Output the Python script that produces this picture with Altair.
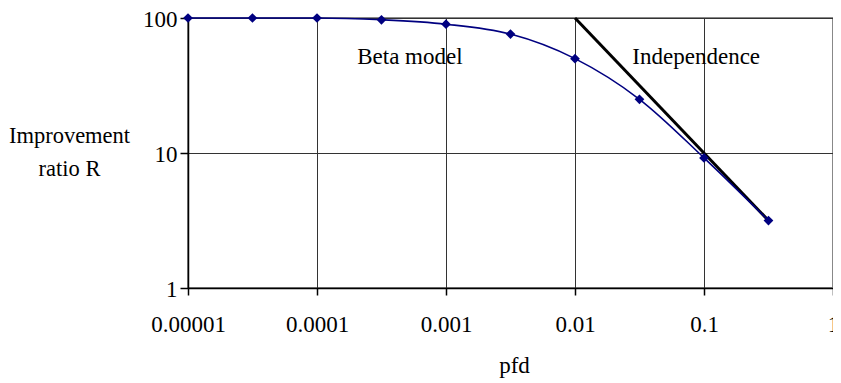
import altair as alt
import pandas as pd

# Beta model curve
pfd = [0.00001, 0.0000316, 0.0001, 0.000316, 0.001, 0.00316, 0.01, 0.0316, 0.1, 0.316]
ratio = [100, 100, 100, 97, 90, 76, 50, 25, 9.2, 3.16]

# Independence line
ind_pfd = [0.01, 0.316]
ind_ratio = [100, 3.16]

# Annotations
ann_text = ["Beta model", "Independence"]
ann_x = [0.000525, 0.087]
ann_y = [45.8, 45.8]

x_ticks = [0.00001, 0.0001, 0.001, 0.01, 0.1, 1]
y_ticks = [1, 10, 100]

FONT = "Liberation Serif"
NAVY = "#000080"

beta = pd.DataFrame({"pfd": pfd, "R": ratio})
ind = pd.DataFrame({"pfd": ind_pfd, "R": ind_ratio})
ann = pd.DataFrame({"pfd": ann_x, "R": ann_y, "label": ann_text})

xs = alt.Scale(type="log", domain=[1e-5, 1], nice=False)
ys = alt.Scale(type="log", domain=[1, 100], nice=False)

x_axis = alt.Axis(
    values=x_ticks, format=".5~f", title="pfd", grid=True,
    gridColor="#333333", gridWidth=1, domainColor="#000000", domainWidth=1.5,
    tickColor="#000000", tickSize=7, tickWidth=1.5,
    labelFont=FONT, labelFontSize=23, labelColor="#000000",
    labelBaseline="alphabetic", labelPadding=36, labelFlush=False,
    titleFont=FONT, titleFontSize=23, titleFontWeight="normal", titleColor="#000000",
    titleBaseline="alphabetic", titleY=84, titleX=326, titleAlign="center",
)
y_axis = alt.Axis(
    values=y_ticks, format="d", title=["Improvement", "ratio R"], grid=True,
    gridColor="#333333", gridWidth=1, domainColor="#000000", domainWidth=1.5,
    tickColor="#000000", tickSize=8, tickWidth=1.5,
    labelFont=FONT, labelFontSize=23, labelColor="#000000", labelPadding=3,
    labelOffset=1, labelFlush=False,
    titleFont=FONT, titleFontSize=22.5, titleFontWeight="normal", titleColor="#000000",
    titleAngle=0, titleBaseline="alphabetic", titleAlign="center",
    titleX=-119, titleY=124, titleLineHeight=33,
)

base_line = alt.Chart(beta).mark_line(color=NAVY, strokeWidth=1.6, interpolate="monotone").encode(
    x=alt.X("pfd:Q", scale=xs, axis=x_axis),
    y=alt.Y("R:Q", scale=ys, axis=y_axis),
)
pts = alt.Chart(beta).mark_point(shape="diamond", filled=True, color=NAVY, size=95, opacity=1).encode(
    x=alt.X("pfd:Q", scale=xs), y=alt.Y("R:Q", scale=ys)
)
ind_line = alt.Chart(ind).mark_line(color="#000000", strokeWidth=3).encode(
    x=alt.X("pfd:Q", scale=xs), y=alt.Y("R:Q", scale=ys)
)
labels = alt.Chart(ann).mark_text(font=FONT, fontSize=23, color="#000000", align="center", baseline="alphabetic").encode(
    x=alt.X("pfd:Q", scale=xs), y=alt.Y("R:Q", scale=ys), text="label:N"
)

chart = alt.layer(ind_line, base_line, pts, labels).properties(
    width=645, height=270,
    autosize=alt.AutoSizeParams(type="none"),
    padding={"left": 180, "top": 10, "right": 0, "bottom": 95},
    background="#ffffff",
).configure_view(stroke="#888888", strokeWidth=2)

chart.save("out.html", embed_options={"renderer": "svg", "actions": False})
